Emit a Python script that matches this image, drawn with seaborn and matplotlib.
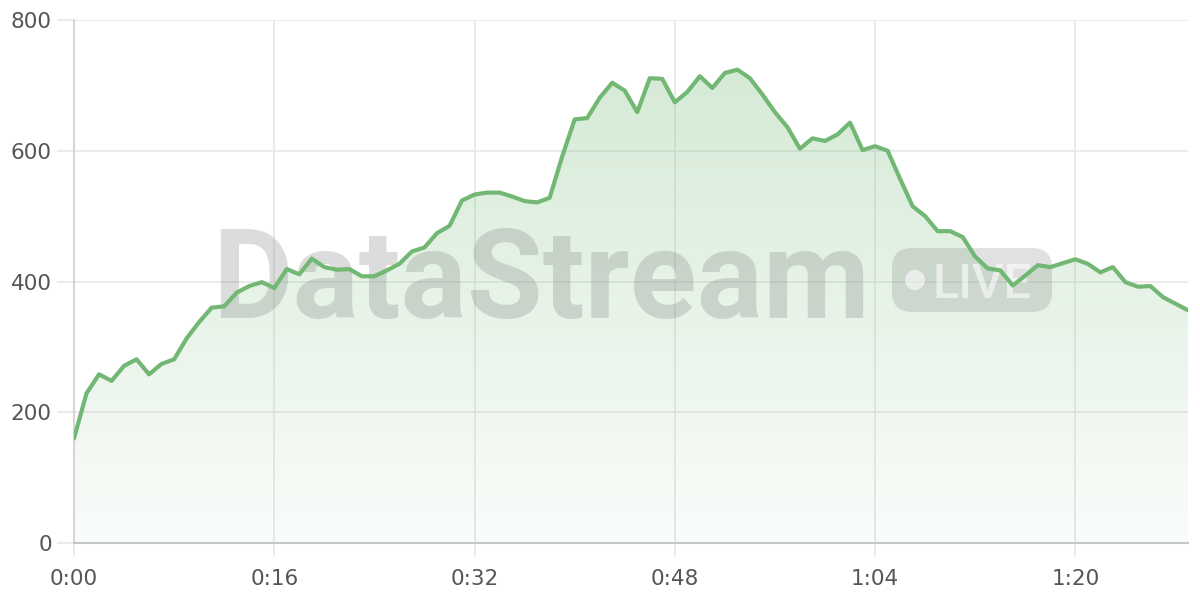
import numpy as np
import pandas as pd
import seaborn as sns
import matplotlib
matplotlib.use("Agg")
import matplotlib.pyplot as plt
from matplotlib.patches import FancyBboxPatch, Circle
from matplotlib.ticker import FuncFormatter

# ---- data ----
seconds = list(range(90))
values = [160, 229, 258, 248, 271, 281, 258, 274, 281, 313,
          338, 360, 362, 383, 393, 399, 390, 419, 411, 435,
          422, 418, 419, 408, 408, 417, 427, 446, 452, 474,
          485, 524, 533, 536, 536, 530, 523, 521, 528, 591,
          648, 650, 681, 704, 692, 659, 711, 710, 674, 690,
          714, 696, 719, 724, 711, 686, 659, 636, 603, 619,
          615, 625, 643, 601, 607, 600, 557, 515, 500, 477,
          477, 468, 438, 420, 417, 394, 409, 425, 422, 428,
          434, 427, 414, 422, 399, 392, 393, 376, 366, 356]
x_ticks = [0, 16, 32, 48, 64, 80]
y_ticks = [0, 200, 400, 600, 800]
watermark = "DataStream"
badge_text = "LIVE"

df = pd.DataFrame({"t": seconds, "v": values})

sns.set_theme(style="white")
plt.rcParams["font.family"] = ["DejaVu Sans"]

LINE = "#72b874"
fig = plt.figure(figsize=(12, 6), dpi=100)
ax = fig.add_axes([74 / 1200, 1 - 543 / 600, (1188 - 74) / 1200, (543 - 20) / 600])

# gradient fill under the curve
poly = ax.fill_between(df["t"], df["v"], 0, color="none", lw=0)
grad = np.linspace(0.04, 0.30, 256).reshape(-1, 1)
rgba = np.zeros((256, 1, 4))
rgba[..., 0] = 0.45
rgba[..., 1] = 0.73
rgba[..., 2] = 0.46
rgba[..., 3] = grad
img = ax.imshow(rgba, extent=[0, 89, 0, max(values)], origin="lower",
                aspect="auto", zorder=1)
img.set_clip_path(poly.get_paths()[0], transform=ax.transData)

sns.lineplot(data=df, x="t", y="v", ax=ax, color=LINE, lw=3, zorder=4)

# watermark (pixel positions via inch transform, 100 px per inch)
T = fig.dpi_scale_trans
def P(x, y):
    return x / 100, (600 - y) / 100

ax.text(*P(541, 318), watermark, transform=T, ha="center", va="baseline",
        fontsize=89, fontweight="bold", family="Roboto", color="#777777",
        alpha=0.25, zorder=3, clip_on=False)
bx0, by0, bx1, by1 = 892, 248, 1052, 312
ax.add_patch(FancyBboxPatch(P(bx0, by1), (bx1 - bx0) / 100, (by1 - by0) / 100,
                            boxstyle="round,pad=0,rounding_size=0.2", transform=T,
                            facecolor="#777777", alpha=0.22, edgecolor="none",
                            zorder=3, clip_on=False))
ax.add_patch(Circle(P(915, 280), 0.10, transform=T, facecolor="white", alpha=0.6,
                    edgecolor="none", zorder=3, clip_on=False))
ax.text(*P(932, 297.5), badge_text, transform=T, ha="left", va="baseline",
        fontsize=35, fontweight="medium", family="Roboto", color="white",
        alpha=0.6, zorder=3, clip_on=False)

ax.set_xlim(0, 89)
ax.set_ylim(0, 800)
ax.set_xticks(x_ticks)
ax.set_yticks(y_ticks)
ax.xaxis.set_major_formatter(FuncFormatter(lambda s, p: f"{int(s)//60}:{int(s)%60:02d}"))
ax.set_xlabel("")
ax.set_ylabel("")
ax.grid(True, color="#e8e8e8", lw=1.2, zorder=0)
ax.set_axisbelow(True)
for s in ["top", "right"]:
    ax.spines[s].set_visible(False)
ax.spines["left"].set_color("#d0d0d0")
ax.spines["left"].set_linewidth(1.2)
ax.spines["bottom"].set_color("#c4c8c4")
ax.spines["bottom"].set_linewidth(1.5)
ax.tick_params(axis="y", length=12, width=1.2, color="#e8e8e8", pad=4,
               labelsize=15.5, labelcolor="#555555", left=True)
ax.tick_params(axis="x", length=10, width=1.2, color="#e8e8e8", pad=9,
               labelsize=15.5, labelcolor="#555555", bottom=True)

fig.savefig("out.png", dpi=100)
